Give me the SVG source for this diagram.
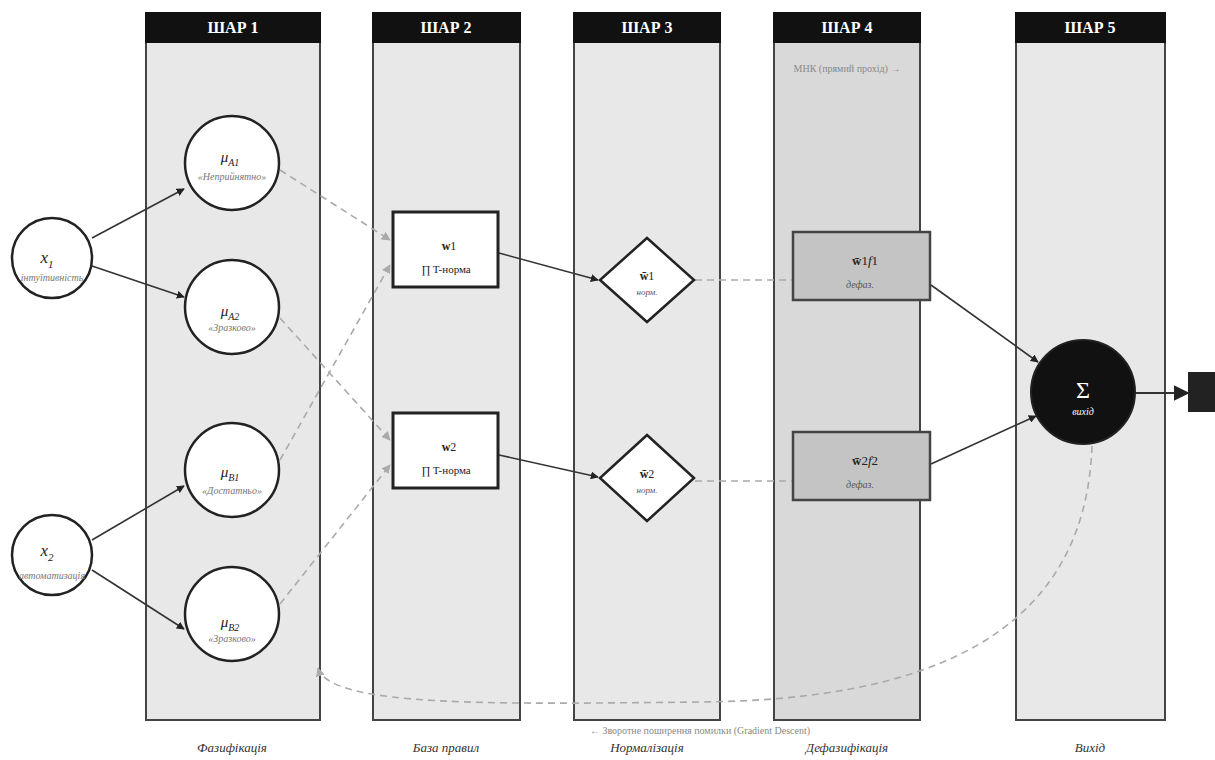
<svg xmlns="http://www.w3.org/2000/svg" width="1215" height="760" viewBox="0 0 1215 760">
<defs>
<style>
.hdr{fill:#111}
.hdrt{fill:#fff;font-family:"Liberation Serif",serif;font-weight:bold;font-size:16px;text-anchor:middle}
.panel{fill:#e8e8e8;stroke:#444;stroke-width:2}
.panel4{fill:#d9d9d9;stroke:#444;stroke-width:2}
.node{fill:#fff;stroke:#222;stroke-width:2.5}
.box{fill:#fff;stroke:#222;stroke-width:3}
.dbox{fill:#c4c4c4;stroke:#444;stroke-width:2.5}
.t{font-family:"Liberation Serif",serif;fill:#222;text-anchor:middle}
.tg{font-family:"Liberation Serif",serif;fill:#555;text-anchor:middle;font-style:italic}
.tw{font-family:"Liberation Serif",serif;fill:#fff;text-anchor:middle}
.lbl{font-family:"Liberation Serif",serif;font-style:italic;fill:#777;text-anchor:middle;font-size:10px}
.cap{font-family:"Liberation Serif",serif;font-style:italic;fill:#333;text-anchor:middle;font-size:13px}
.note{font-family:"Liberation Serif",serif;fill:#888;text-anchor:middle;font-size:10px}
.solid{stroke:#333;stroke-width:1.6;fill:none;marker-end:url(#ah)}
.dash{stroke:#aaa;stroke-width:1.6;fill:none;stroke-dasharray:7 5;marker-end:url(#ahg)}
.dashn{stroke:#aaa;stroke-width:1.6;fill:none;stroke-dasharray:7 5}
</style>
<marker id="ah" viewBox="0 0 10 10" refX="9" refY="5" markerWidth="8" markerHeight="8" orient="auto" markerUnits="userSpaceOnUse"><path d="M0,0 L10,5 L0,10 z" fill="#222"/></marker>
<marker id="ahg" viewBox="0 0 10 10" refX="9" refY="5" markerWidth="9" markerHeight="9" orient="auto" markerUnits="userSpaceOnUse"><path d="M0,0 L10,5 L0,10 z" fill="#aaa"/></marker>
<marker id="ahb" viewBox="0 0 10 10" refX="9" refY="5" markerWidth="16" markerHeight="16" orient="auto" markerUnits="userSpaceOnUse"><path d="M0,0 L10,5 L0,10 z" fill="#222"/></marker>
</defs>
<rect width="1215" height="760" fill="#fff"/>

<g id="layers">
<rect class="panel" x="146" y="42" width="174" height="678"/>
<rect class="hdr" x="145" y="12" width="176" height="31"/>
<text class="hdrt" x="233" y="33">ШАР 1</text>
<rect class="panel" x="373" y="42" width="147" height="678"/>
<rect class="hdr" x="372" y="12" width="149" height="31"/>
<text class="hdrt" x="446" y="33">ШАР 2</text>
<rect class="panel" x="574" y="42" width="146" height="678"/>
<rect class="hdr" x="573" y="12" width="148" height="31"/>
<text class="hdrt" x="647" y="33">ШАР 3</text>
<rect class="panel4" x="774" y="42" width="146" height="678"/>
<rect class="hdr" x="773" y="12" width="148" height="31"/>
<text class="hdrt" x="847" y="33">ШАР 4</text>
<rect class="panel" x="1016" y="42" width="149" height="678"/>
<rect class="hdr" x="1015" y="12" width="151" height="31"/>
<text class="hdrt" x="1090" y="33">ШАР 5</text>
<text class="note" x="847" y="72">МНК (прямий прохід) →</text>
</g>

<g id="connectors">
<line class="solid" x1="92" y1="238" x2="184" y2="189"/>
<line class="solid" x1="92" y1="266" x2="184" y2="297"/>
<line class="solid" x1="92" y1="540" x2="184" y2="486"/>
<line class="solid" x1="92" y1="570" x2="184" y2="629"/>
<line class="dash" x1="280" y1="170" x2="390" y2="240"/>
<line class="dash" x1="280" y1="318" x2="390" y2="440"/>
<line class="dash" x1="280" y1="460" x2="390" y2="265"/>
<line class="dash" x1="280" y1="604" x2="390" y2="465"/>
<line class="solid" x1="499" y1="253" x2="598" y2="280"/>
<line class="solid" x1="499" y1="455" x2="598" y2="477"/>
<line class="dashn" x1="695" y1="280" x2="792" y2="280"/>
<line class="dashn" x1="695" y1="481" x2="792" y2="481"/>
<line class="solid" x1="931" y1="285" x2="1038" y2="362"/>
<line class="solid" x1="931" y1="464" x2="1036" y2="416"/>
<line stroke="#333" stroke-width="2" x1="1134" y1="393" x2="1188" y2="393" marker-end="url(#ahb)"/>
<path class="dash" d="M1092,446 C1085,640 920,700 700,702 C500,704 330,708 318,668"/>
</g>

<g id="x1"><circle class="node" cx="52" cy="258" r="40"/>
<text class="t" x="47" y="263" font-size="17" font-style="italic">x<tspan dy="5" font-size="11">1</tspan></text>
<text class="lbl" x="52" y="281">інтуїтивність</text></g>
<g id="x2"><circle class="node" cx="52" cy="555" r="40"/>
<text class="t" x="47" y="556" font-size="17" font-style="italic">x<tspan dy="5" font-size="11">2</tspan></text>
<text class="lbl" x="52" y="579">автоматизація</text></g>

<g id="muA1"><circle class="node" cx="232" cy="163" r="47"/>
<text class="t" x="230" y="162" font-size="15" font-style="italic">μ<tspan dy="4" font-size="10">A1</tspan></text>
<text class="lbl" x="232" y="180">«Неприйнятно»</text></g>
<g id="muA2"><circle class="node" cx="232" cy="307" r="47"/>
<text class="t" x="230" y="316" font-size="15" font-style="italic">μ<tspan dy="4" font-size="10">A2</tspan></text>
<text class="lbl" x="232" y="331">«Зразково»</text></g>
<g id="muB1"><circle class="node" cx="232" cy="470" r="47"/>
<text class="t" x="230" y="477" font-size="15" font-style="italic">μ<tspan dy="4" font-size="10">B1</tspan></text>
<text class="lbl" x="232" y="494">«Достатньо»</text></g>
<g id="muB2"><circle class="node" cx="232" cy="614" r="47"/>
<text class="t" x="230" y="627" font-size="15" font-style="italic">μ<tspan dy="4" font-size="10">B2</tspan></text>
<text class="lbl" x="232" y="642">«Зразково»</text></g>

<g id="w1"><rect class="box" x="393" y="212" width="105" height="75"/>
<text class="t" x="449" y="250" font-size="12" font-weight="bold">w<tspan font-weight="normal">1</tspan></text>
<text class="t" x="446" y="273" font-size="11">∏ T-норма</text></g>
<g id="w2"><rect class="box" x="393" y="413" width="105" height="75"/>
<text class="t" x="449" y="451" font-size="12" font-weight="bold">w<tspan font-weight="normal">2</tspan></text>
<text class="t" x="446" y="474" font-size="11">∏ T-норма</text></g>

<g id="n1"><polygon class="node" points="647,238 694,280 647,322 600,280"/>
<text class="t" x="647" y="280" font-size="12" font-weight="bold">w̄<tspan font-weight="normal">1</tspan></text>
<text class="tg" x="647" y="295" font-size="9">норм.</text></g>
<g id="n2"><polygon class="node" points="647,435 694,478 647,521 600,478"/>
<text class="t" x="647" y="478" font-size="12" font-weight="bold">w̄<tspan font-weight="normal">2</tspan></text>
<text class="tg" x="647" y="493" font-size="9">норм.</text></g>

<g id="d1"><rect class="dbox" x="793" y="232" width="137" height="68"/>
<text class="t" x="865" y="265" font-size="13"><tspan font-weight="bold">w̄</tspan>1<tspan font-style="italic">f</tspan>1</text>
<text class="tg" x="860" y="288" font-size="10">дефаз.</text></g>
<g id="d2"><rect class="dbox" x="793" y="432" width="137" height="68"/>
<text class="t" x="865" y="465" font-size="13"><tspan font-weight="bold">w̄</tspan>2<tspan font-style="italic">f</tspan>2</text>
<text class="tg" x="860" y="488" font-size="10">дефаз.</text></g>

<g id="sum"><circle cx="1083" cy="392" r="52" fill="#111" stroke="#222" stroke-width="2"/>
<text class="tw" x="1083" y="398" font-size="24">Σ</text>
<text class="tw" x="1083" y="415" font-size="10" font-style="italic">вихід</text></g>

<g id="out"><rect x="1188" y="372" width="27" height="40" fill="#222"/></g>

<g id="captions">
<text class="note" x="700" y="734">← Зворотне поширення помилки (Gradient Descent)</text>
<text class="cap" x="232" y="752">Фазифікація</text>
<text class="cap" x="446" y="752">База правил</text>
<text class="cap" x="647" y="752">Нормалізація</text>
<text class="cap" x="847" y="752">Дефазифікація</text>
<text class="cap" x="1090" y="752">Вихід</text>
</g>
</svg>
